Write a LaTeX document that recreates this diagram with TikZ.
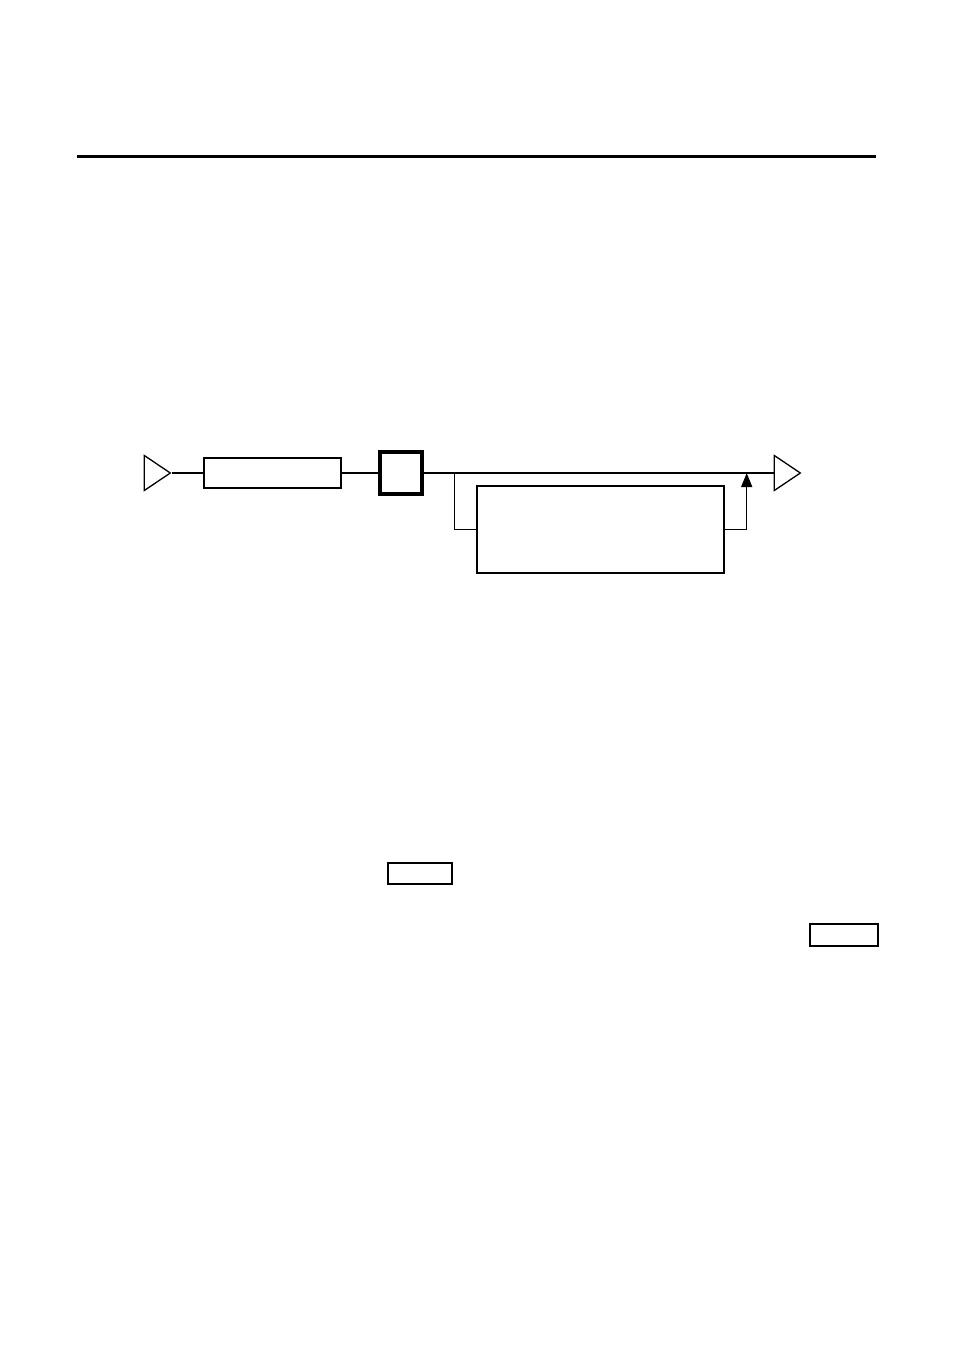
\documentclass[tikz,border=0pt]{standalone}
\usetikzlibrary{shapes.geometric,arrows.meta}
\begin{document}
\begin{tikzpicture}[x=1pt,y=-1pt,
  blk/.style={draw,rectangle,line width=2pt,inner sep=0pt},
  tri/.style={draw,isosceles triangle,isosceles triangle stretches,shape border rotate=0,
    minimum width=35pt,minimum height=26pt,inner sep=0pt,line width=1.3pt,anchor=apex},
  conn/.style={line width=1.5pt}]
\useasboundingbox (0,0) rectangle (954,1351);
\fill[white] (0,0) rectangle (954,1351);
% top rule
\coordinate (r1) at (77,157);
\coordinate (r2) at (876,157);
\draw[line width=3pt] (r1) -- (r2);
% main chain
\node[tri] (t1) at (172,473) {};
\node[blk,minimum width=137pt,minimum height=30.5pt] (b1) at (272.2,473) {};
\node[blk,line width=4pt,minimum width=42.5pt,minimum height=42pt] (b2) at (400.8,473) {};
\node[blk,minimum width=247pt,minimum height=87pt] (b3) at (600.5,529.5) {};
\node[tri] (t2) at (802,473) {};
\coordinate (j1) at (454.3,473);
\coordinate (j2) at (746.7,473);
\draw[conn] (t1.apex) -- (b1.west);
\draw[conn] (b1.east) -- (b2.west);
\draw[conn] (b2.east) -- (t2.west);
\draw[conn] (j1) |- (b3.west);
\draw[conn,-{Triangle[length=14pt,width=11pt]}] (b3.east) -| (j2);
% small boxes
\node[blk,minimum width=64pt,minimum height=21pt] (s1) at (420.3,873.7) {};
\node[blk,minimum width=68pt,minimum height=22pt] (s2) at (844,935.3) {};
\end{tikzpicture}
\end{document}
